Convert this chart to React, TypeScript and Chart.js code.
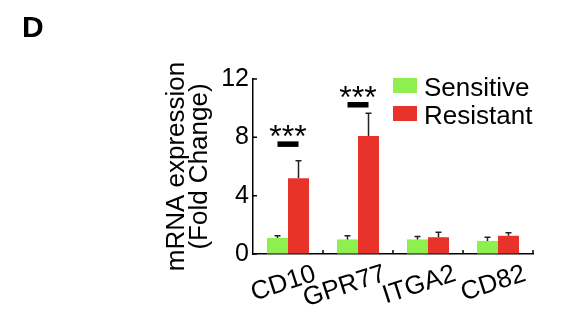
import React, { useEffect, useRef } from "react";
import { Chart, registerables } from "chart.js";

Chart.register(...registerables);

const categories = ["CD10", "GPR77", "ITGA2", "CD82"];
const seriesNames = ["Sensitive", "Resistant"];
const sensitive = [1.1, 1.0, 1.0, 0.9];
const resistant = [5.2, 8.1, 1.15, 1.25];
const sensitiveErr = [0.15, 0.25, 0.2, 0.25];
const resistantErr = [1.2, 1.55, 0.35, 0.2];
const sigMarks = ["***", "***", "", ""];
const sigLevels = [7.55, 10.25, 0, 0];
const yTicks = [0, 4, 8, 12];
const panelLabel = "D";

const GREEN = "#8ef04f";
const RED = "#e8332a";
const FONT = "'Liberation Sans', Arial, sans-serif";

const overlayPlugin = {
  id: "overlay",
  afterDatasetsDraw(chart: any) {
    const ctx = chart.ctx;
    const y = chart.scales.y;
    const x = chart.scales.x;
    const errs = [sensitiveErr, resistantErr];
    ctx.save();
    // inward tick marks
    ctx.strokeStyle = "#000";
    ctx.lineWidth = 1.5;
    ctx.beginPath();
    yTicks.forEach((v) => {
      const py = y.getPixelForValue(v);
      ctx.moveTo(x.left, py);
      ctx.lineTo(x.left + 4, py);
    });
    const cw = (x.right - x.left) / categories.length;
    for (let i = 1; i <= categories.length; i++) {
      const px = x.left + cw * i;
      ctx.moveTo(px, y.bottom);
      ctx.lineTo(px, y.bottom - 4);
    }
    ctx.stroke();
    // error bars
    chart.data.datasets.forEach((ds: any, di: number) => {
      const meta = chart.getDatasetMeta(di);
      meta.data.forEach((bar: any, i: number) => {
        const v = ds.data[i];
        const top = y.getPixelForValue(v);
        const et = y.getPixelForValue(v + errs[di][i]);
        ctx.strokeStyle = "#222";
        ctx.lineWidth = 1.5;
        ctx.beginPath();
        ctx.moveTo(bar.x, top);
        ctx.lineTo(bar.x, et);
        ctx.moveTo(bar.x - 3, et);
        ctx.lineTo(bar.x + 3, et);
        ctx.stroke();
      });
    });
    // significance
    const m0 = chart.getDatasetMeta(0);
    const m1 = chart.getDatasetMeta(1);
    sigMarks.forEach((s, i) => {
      if (!s) return;
      const x0 = m0.data[i].x;
      const x1 = m1.data[i].x;
      const yy = y.getPixelForValue(sigLevels[i]);
      ctx.fillStyle = "#000";
      ctx.fillRect(x0, yy - 2.5, x1 - x0, 5.5);
      ctx.font = `32px ${FONT}`;
      ctx.textAlign = "center";
      ctx.textBaseline = "alphabetic";
      ctx.fillText(s, (x0 + x1) / 2, yy + 3);
    });
    // x labels
    ctx.font = `26px ${FONT}`;
    ctx.fillStyle = "#000";
    categories.forEach((c, i) => {
      const cx = x.getPixelForValue(i);
      ctx.save();
      ctx.translate(cx + 23, 261);
      ctx.rotate((-18 * Math.PI) / 180);
      ctx.textAlign = "right";
      ctx.textBaseline = "top";
      ctx.fillText(c, 0, 0);
      ctx.restore();
    });
    // legend
    chart.data.datasets.forEach((ds: any, di: number) => {
      const ty = 78 + di * 28;
      ctx.fillStyle = ds.backgroundColor;
      ctx.fillRect(393, ty, 24, 15);
      ctx.fillStyle = "#000";
      ctx.font = `26px ${FONT}`;
      ctx.textAlign = "left";
      ctx.textBaseline = "alphabetic";
      ctx.fillText(ds.label, 424, ty + 18);
    });
    // panel label
    ctx.font = `bold 30px ${FONT}`;
    ctx.textAlign = "left";
    ctx.fillText(panelLabel, 22, 37);
    ctx.restore();
  },
};

export default function App() {
  const ref = useRef<HTMLCanvasElement>(null);
  useEffect(() => {
    const chart = new Chart(ref.current!, {
      type: "bar",
      data: {
        labels: categories,
        datasets: [
          { label: seriesNames[0], data: sensitive, backgroundColor: GREEN, categoryPercentage: 0.6, barPercentage: 1.0 },
          { label: seriesNames[1], data: resistant, backgroundColor: RED, categoryPercentage: 0.6, barPercentage: 1.0 },
        ],
      },
      options: {
        animation: false,
        responsive: false,
        devicePixelRatio: 1,
        layout: { padding: { left: 155, right: 51, top: 79, bottom: 0 } },
        plugins: { legend: { display: false }, tooltip: { enabled: false } },
        scales: {
          x: {
            afterFit: (s: any) => { s.height = 72; },
            ticks: { display: false },
            grid: { display: false },
            border: { display: true, color: "#000", width: 1.5 },
          },
          y: {
            min: 0,
            max: 12,
            afterFit: (s: any) => { s.width = 98; },
            afterBuildTicks: (s: any) => { s.ticks = yTicks.map((v) => ({ value: v })); },
            ticks: { color: "#000", font: { family: FONT, size: 25 }, padding: 4 },
            grid: { drawOnChartArea: false, drawTicks: false },
            border: { display: true, color: "#000", width: 1.5 },
            title: {
              display: true,
              text: ["mRNA expression", "(Fold Change)"],
              color: "#000",
              font: { family: FONT, size: 26, lineHeight: 0.9 },
              padding: { top: 10, bottom: 0 },
            },
          },
        },
      },
      plugins: [overlayPlugin],
    });
    return () => chart.destroy();
  }, []);
  return (
    <div style={{ position: "fixed", left: 0, top: 0, width: 584, height: 326, background: "#fff" }}>
      <canvas ref={ref} width={584} height={326} style={{ width: 584, height: 326 }} />
    </div>
  );
}
